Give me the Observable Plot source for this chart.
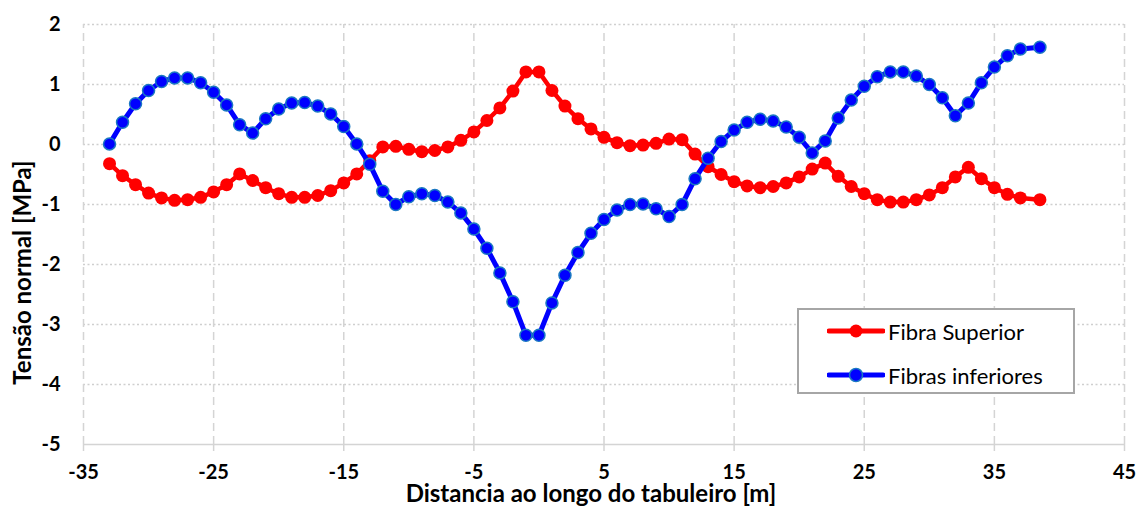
<!DOCTYPE html>
<html>
<head>
<meta charset="utf-8">
<script src="https://cdn.jsdelivr.net/npm/d3@7"></script>
<script src="https://cdn.jsdelivr.net/npm/@observablehq/plot@0.6"></script>
<style>
  body { margin: 0; background: #fff; font-family: Lato, "Open Sans", sans-serif; }
  #wrap { position: relative; width: 1137px; height: 509px; }
  #legend { position: absolute; left: 797px; top: 308px; width: 278px; height: 86px;
            border: 2px solid #a6a6a6; background: #fff; box-sizing: border-box; }
  .item { position: absolute; left: 28px; display: flex; align-items: center; font-size: 22px; color: #000; }
  .item svg { margin-right: 3px; }
</style>
</head>
<body>
<div id="wrap">
  <div id="chart"></div>
  <div id="legend"></div>
</div>
<script>
// ---- data ----
const distance = [-33,-32,-31,-30,-29,-28,-27,-26,-25,-24,-23,-22,-21,-20,-19,-18,-17,-16,-15,-14,-13,-12,-11,-10,-9,-8,-7,-6,-5,-4,-3,-2,-1,0,1,2,3,4,5,6,7,8,9,10,11,12,13,14,15,16,17,18,19,20,21,22,23,24,25,26,27,28,29,30,31,32,33,34,35,36,37,38.5];
const fibraSuperior = [-0.32,-0.52,-0.67,-0.81,-0.89,-0.93,-0.92,-0.88,-0.79,-0.67,-0.49,-0.60,-0.72,-0.82,-0.88,-0.88,-0.85,-0.77,-0.64,-0.49,-0.27,-0.04,-0.03,-0.08,-0.12,-0.10,-0.04,0.07,0.21,0.40,0.61,0.89,1.21,1.21,0.90,0.64,0.43,0.26,0.12,0.03,-0.02,-0.01,0.02,0.09,0.08,-0.16,-0.37,-0.50,-0.62,-0.69,-0.72,-0.70,-0.64,-0.54,-0.41,-0.31,-0.53,-0.70,-0.82,-0.92,-0.96,-0.96,-0.92,-0.84,-0.72,-0.54,-0.38,-0.57,-0.72,-0.83,-0.89,-0.92];
const fibrasInferiores = [0.01,0.37,0.68,0.90,1.05,1.11,1.11,1.03,0.87,0.66,0.33,0.19,0.43,0.59,0.69,0.70,0.64,0.51,0.30,0.01,-0.33,-0.78,-1.00,-0.87,-0.82,-0.85,-0.96,-1.14,-1.41,-1.73,-2.14,-2.62,-3.18,-3.18,-2.64,-2.18,-1.80,-1.48,-1.25,-1.09,-1.00,-0.99,-1.07,-1.20,-1.00,-0.57,-0.23,0.05,0.24,0.37,0.42,0.39,0.29,0.12,-0.14,0.06,0.44,0.74,0.97,1.13,1.21,1.21,1.14,1.00,0.78,0.48,0.69,1.03,1.29,1.48,1.59,1.62];
const xTicks = [-35,-25,-15,-5,5,15,25,35,45];
const yTicks = [-5,-4,-3,-2,-1,0,1,2];
const seriesNames = ["Fibra Superior", "Fibras inferiores"];
const xTitle = "Distancia ao longo do tabuleiro [m]";
const yTitle = "Tensão normal [MPa]";

const sup = distance.map((x, i) => ({x, y: fibraSuperior[i]}));
const inf = distance.map((x, i) => ({x, y: fibrasInferiores[i]}));

const RED = "#ff0000", BLUE = "#0000ff", BLUE_EDGE = "#1a78c2";

const chart = Plot.plot({
  width: 1137,
  height: 509,
  marginLeft: 83,
  marginRight: 13,
  marginTop: 24,
  marginBottom: 65,
  x: {domain: [-35, 45]},
  y: {domain: [-5, 2]},
  style: {fontFamily: "Lato, 'Open Sans', sans-serif", background: "#fff", color: "#000"},
  marks: [
    Plot.ruleY(yTicks.filter(d => d > -5), {stroke: "#cfcfcf", strokeWidth: 1.5, strokeDasharray: "2,2.5"}),
    Plot.ruleX(xTicks, {y1: -5, y2: 2, stroke: "#d4d4d4", strokeWidth: 1.5, strokeDasharray: "8,5"}),
    Plot.ruleY([-5], {stroke: "#d4d4d4", strokeWidth: 1.5}),
    Plot.axisX({ticks: xTicks, tickSize: 7, stroke: "#d4d4d4", strokeWidth: 1.5, fill: "#000", tickPadding: 13,
                fontSize: 20, fontWeight: "bold", label: null, tickFormat: d => String(d)}),
    Plot.axisY({ticks: yTicks, tickSize: 0, tickPadding: 23, fill: "#000",
                fontSize: 20, fontWeight: "bold", label: null, tickFormat: d => String(d)}),
    Plot.text([xTitle], {frameAnchor: "bottom", lineAnchor: "middle", textAnchor: "middle", dy: 50, dx: -13,
                         fontSize: 24, fontWeight: "bold", fill: "#000"}),
    Plot.text([yTitle], {frameAnchor: "left", lineAnchor: "middle", textAnchor: "middle", rotate: -90, dx: -60, dy: 38,
                         fontSize: 24, fontWeight: "bold", fill: "#000"}),
    Plot.line(sup, {x: "x", y: "y", stroke: RED, strokeWidth: 4.5}),
    Plot.dot(sup, {x: "x", y: "y", r: 6.5, fill: RED, stroke: "none"}),
    Plot.line(inf, {x: "x", y: "y", stroke: BLUE, strokeWidth: 5}),
    Plot.dot(inf, {x: "x", y: "y", r: 6, fill: BLUE, stroke: BLUE_EDGE, strokeWidth: 1.5})
  ]
});
document.getElementById("chart").appendChild(chart);

// legend
const legend = document.getElementById("legend");
const swatches = [
  {name: seriesNames[0], stroke: RED, fill: RED, edge: "none", top: 21},
  {name: seriesNames[1], stroke: BLUE, fill: BLUE, edge: BLUE_EDGE, top: 65}
];
swatches.forEach(s => {
  const item = document.createElement("div");
  item.className = "item";
  item.style.top = (s.top - 14) + "px";
  item.innerHTML = `<svg width="58" height="28"><line x1="2" x2="56" y1="14" y2="14" stroke="${s.stroke}" stroke-width="5" stroke-linecap="round"/><circle cx="29" cy="14" r="6.5" fill="${s.fill}" stroke="${s.edge}" stroke-width="1.5"/></svg><span>${s.name}</span>`;
  legend.appendChild(item);
});
</script>
</body>
</html>
